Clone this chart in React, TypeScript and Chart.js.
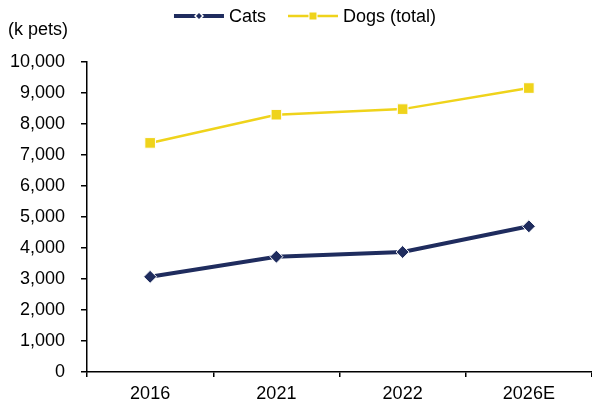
import { useEffect, useRef } from "react";
import { Chart, registerables } from "chart.js";

Chart.register(...registerables);

// Pet population by year, thousands
const years = ["2016", "2021", "2022", "2026E"];
const cats = [3070, 3720, 3870, 4700];
const dogs = [7390, 8300, 8480, 9160];
const seriesNames = ["Cats", "Dogs (total)"];
const unitLabel = "(k pets)";
const yMax = 10000;
const yStep = 1000;

const NAVY = "#1F2C5E";
const YELLOW = "#EFD31B";
const FONT = "'Liberation Sans', Arial, Helvetica, sans-serif";
const FONT_SIZE = 18;

type Marker = "diamond" | "square";

function drawMarker(ctx: CanvasRenderingContext2D, kind: Marker, x: number, y: number, r: number, color: string) {
  ctx.beginPath();
  if (kind === "diamond") {
    ctx.moveTo(x, y - r);
    ctx.lineTo(x + r, y);
    ctx.lineTo(x, y + r);
    ctx.lineTo(x - r, y);
    ctx.closePath();
  } else {
    ctx.rect(x - r, y - r, 2 * r, 2 * r);
  }
  ctx.fillStyle = color;
  ctx.fill();
}

// Legend with line samples and the series marker in the middle, plus the unit caption
const legendPlugin = {
  id: "lineSampleLegend",
  afterDraw(chart: any) {
    const ctx: CanvasRenderingContext2D = chart.ctx;
    ctx.save();
    ctx.font = `${FONT_SIZE}px ${FONT}`;
    ctx.textBaseline = "middle";
    ctx.textAlign = "left";

    // unit caption above the value axis
    ctx.fillStyle = "#000";
    ctx.fillText(unitLabel, 8, 30);

    const sample = 50;
    const textGap = 5;
    const itemGap = 22;
    const y = 16;
    const markers: Marker[] = ["diamond", "square"];
    const items = chart.data.datasets.map((ds: any, i: number) => ({
      ds,
      marker: markers[i],
      w: sample + textGap + ctx.measureText(ds.label).width,
    }));
    const total = items.reduce((s: number, it: any) => s + it.w, 0) + itemGap * (items.length - 1);
    let x = chart.width / 2 + 9 - total / 2;
    for (const it of items) {
      const color = it.ds.borderColor;
      ctx.strokeStyle = color;
      ctx.lineWidth = it.ds.borderWidth;
      ctx.lineCap = "butt";
      ctx.beginPath();
      ctx.moveTo(x, y);
      ctx.lineTo(x + sample, y);
      ctx.stroke();
      const cx = x + sample / 2;
      if (it.marker === "diamond") {
        drawMarker(ctx, "diamond", cx, y, 5, "#fff");
        drawMarker(ctx, "diamond", cx, y, 3, color);
      } else {
        drawMarker(ctx, "square", cx, y, 4.5, "#fff");
        drawMarker(ctx, "square", cx, y, 3.5, color);
      }
      ctx.fillStyle = "#000";
      ctx.fillText(it.ds.label, x + sample + textGap, y + 1);
      x += it.w + itemGap;
    }
    ctx.restore();
  },
};

export default function App() {
  const canvasRef = useRef<HTMLCanvasElement | null>(null);

  useEffect(() => {
    if (!canvasRef.current) return;
    const chart = new Chart(canvasRef.current, {
      type: "line",
      data: {
        labels: years,
        datasets: [
          {
            label: seriesNames[0],
            data: cats,
            borderColor: NAVY,
            backgroundColor: NAVY,
            borderWidth: 4,
            pointStyle: "rectRot",
            pointRadius: 6.5,
            pointBorderColor: "#fff",
            pointBorderWidth: 1,
            pointBackgroundColor: NAVY,
            tension: 0,
          },
          {
            label: seriesNames[1],
            data: dogs,
            borderColor: YELLOW,
            backgroundColor: YELLOW,
            borderWidth: 2.5,
            pointStyle: "rect",
            pointRadius: 7.5,
            pointBorderColor: "#fff",
            pointBorderWidth: 1,
            pointBackgroundColor: YELLOW,
            tension: 0,
          },
        ],
      },
      options: {
        responsive: false,
        animation: false,
        layout: { autoPadding: false, padding: { top: 62, left: 0, right: 0, bottom: 0 } },
        plugins: {
          legend: { display: false },
          tooltip: { enabled: false },
        },
        scales: {
          x: {
            type: "category",
            offset: true,
            grid: {
              offset: true,
              drawOnChartArea: false,
              drawTicks: true,
              tickLength: 5,
              // no tick mark at the far right end of the axis
              color: (c: any) => (c.index === years.length ? "rgba(0,0,0,0)" : "#000"),
              lineWidth: 1.5,
            },
            border: { display: true, color: "#000", width: 1.5 },
            ticks: {
              color: "#000",
              padding: 6,
              font: { family: FONT, size: FONT_SIZE },
              maxRotation: 0,
            },
            afterFit(scale: any) {
              scale.height = 35;
              scale.paddingLeft = 0;
              scale.paddingRight = 0;
            },
          },
          y: {
            min: 0,
            max: yMax,
            grid: {
              drawOnChartArea: false,
              drawTicks: true,
              tickLength: 6,
              color: "#000",
              lineWidth: 1.5,
            },
            border: { display: true, color: "#000", width: 1.5 },
            ticks: {
              stepSize: yStep,
              color: "#000",
              padding: 16,
              font: { family: FONT, size: FONT_SIZE },
              callback: (v: any) => Number(v).toLocaleString("en-US"),
            },
            afterFit(scale: any) {
              scale.width = 87;
            },
          },
        },
      },
      plugins: [legendPlugin],
    });
    return () => chart.destroy();
  }, []);

  return (
    <div style={{ position: "absolute", left: 0, top: 0, width: 592, height: 407, background: "#fff" }}>
      <canvas ref={canvasRef} width={592} height={407} style={{ display: "block" }} />
    </div>
  );
}
